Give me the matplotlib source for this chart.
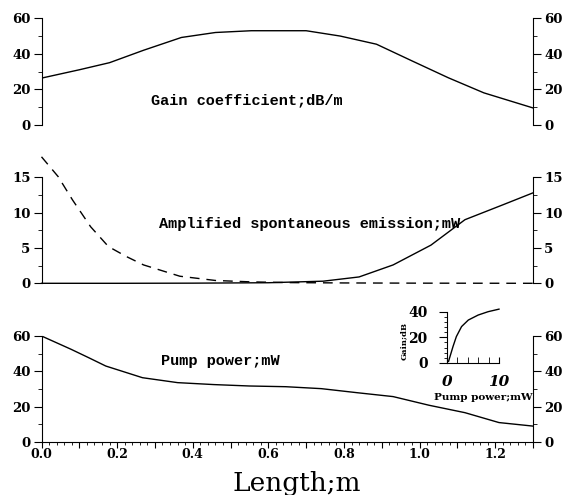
import numpy as np
import matplotlib.pyplot as plt
from matplotlib.ticker import MultipleLocator

# data
gain_x = [0.0, 0.1, 0.18, 0.27, 0.37, 0.46, 0.555, 0.70, 0.79, 0.886, 0.98, 1.076, 1.17, 1.3]
gain_y = [26.3, 31.0, 35.0, 42.0, 49.2, 52.0, 53.0, 53.0, 50.0, 45.4, 36.0, 26.5, 18.0, 9.5]

ase_bwd_x = [0.0, 0.044, 0.082, 0.13, 0.177, 0.224, 0.27, 0.366, 0.46, 0.555, 0.65, 0.8, 1.0, 1.3]
ase_bwd_y = [17.9, 15.1, 11.8, 8.0, 5.2, 3.8, 2.6, 1.0, 0.4, 0.2, 0.1, 0.05, 0.02, 0.0]

ase_fwd_x = [0.0, 0.2, 0.4, 0.6, 0.745, 0.84, 0.93, 1.03, 1.12, 1.22, 1.3]
ase_fwd_y = [0.0, 0.0, 0.02, 0.08, 0.3, 0.9, 2.6, 5.4, 9.0, 11.1, 12.8]

pump_x = [0.0, 0.078, 0.125, 0.17, 0.22, 0.267, 0.36, 0.456, 0.55, 0.646, 0.74, 0.835, 0.93, 1.025, 1.12, 1.21, 1.3]
pump_y = [60.0, 52.5, 47.7, 43.0, 39.6, 36.4, 33.6, 32.5, 31.7, 31.3, 30.2, 27.9, 25.7, 20.8, 16.6, 11.0, 9.0]

inset_x = [0.3, 1.16, 1.8, 2.8, 4.1, 6.0, 7.9, 10.0]
inset_y = [1.3, 12.9, 20.6, 28.4, 33.5, 37.4, 40.0, 42.0]

x_ticks = [0.0, 0.2, 0.4, 0.6, 0.8, 1.0, 1.2]
x_ticklabels = ['0.0', '0.2', '0.4', '0.6', '0.8', '1.0', '1.2']

plt.rcParams['font.family'] = 'DejaVu Serif'
label_font = dict(family='Liberation Mono', fontweight='bold', fontsize=11)

fig = plt.figure(figsize=(5.63, 4.95), dpi=100)
W, H = 563.0, 495.0
left, right = 41.5 / W, 533 / W

def panel(top_px, bot_px):
    return fig.add_axes([left, 1 - bot_px / H, right - left, (bot_px - top_px) / H])

ax1 = panel(18.3, 124.8)
ax2 = panel(177.3, 283.3)
ax3 = panel(336, 442)

for ax, ymax, major, minor in [(ax1, 60, 20, 10), (ax2, 15, 5, 2.5), (ax3, 60, 20, 10)]:
    ax.set_xlim(0, 1.3)
    ax.set_ylim(0, ymax)
    ax.yaxis.set_major_locator(MultipleLocator(major))
    ax.yaxis.set_minor_locator(MultipleLocator(minor))
    ax.spines['top'].set_visible(False)
    ax.tick_params(axis='y', which='both', direction='out', left=True, right=True,
                   labelleft=True, labelright=True, labelsize=9.5, pad=2.5)
    ax.tick_params(axis='y', which='major', length=5.5)
    ax.tick_params(axis='y', which='minor', length=3)
    for lab in ax.get_yticklabels():
        lab.set_fontweight('bold')
    ax.patch.set_visible(False)

for ax in (ax1, ax2):
    ax.spines['bottom'].set_visible(False)
    ax.tick_params(axis='x', which='both', bottom=False, labelbottom=False)

ax3.set_xticks(np.arange(0, 1.31, 0.1))
ax3.set_xticklabels([x_ticklabels[i // 2] if i % 2 == 0 else '' for i in range(14)],
                    fontweight='bold')
ax3.xaxis.set_minor_locator(MultipleLocator(0.02))
ax3.tick_params(axis='x', which='both', direction='out', labelsize=9, pad=0.5)
ax3.tick_params(axis='x', which='major', length=4)
ax3.tick_params(axis='x', which='minor', length=2.5)

ax1.plot(gain_x, gain_y, color='black', lw=1)
ax1.text(0.543, 13.8, 'Gain coefficient;dB/m', ha='center', va='center', **label_font)

ax2.plot(ase_bwd_x, ase_bwd_y, color='black', lw=1, dashes=(7, 5), clip_on=False)
ax2.plot(ase_fwd_x, ase_fwd_y, color='black', lw=1, clip_on=False)
ax2.text(0.709, 8.4, 'Amplified spontaneous emission;mW', ha='center', va='center', **label_font)

ax3.plot(pump_x, pump_y, color='black', lw=1)
ax3.text(0.474, 45.8, 'Pump power;mW', ha='center', va='center', **label_font)
fig.text(297 / W, 1 - 491 / H, 'Length;m', ha='center', va='baseline', fontsize=19)

# inset
axi = fig.add_axes([447 / W, 1 - 363 / H, 52 / W, 51.3 / H])
axi.plot(inset_x, inset_y, color='black', lw=1, clip_on=False)
axi.set_xlim(0, 10)
axi.set_ylim(0, 40)
axi.spines['top'].set_visible(False)
axi.spines['right'].set_visible(False)
axi.patch.set_visible(False)
axi.xaxis.set_major_locator(MultipleLocator(10))
axi.xaxis.set_minor_locator(MultipleLocator(2))
axi.yaxis.set_major_locator(MultipleLocator(20))
axi.yaxis.set_minor_locator(MultipleLocator(4))
axi.tick_params(axis='x', which='both', direction='in', labelsize=11, pad=9)
axi.tick_params(axis='x', which='major', length=4.5)
axi.tick_params(axis='x', which='minor', length=4)
axi.tick_params(axis='y', which='both', direction='out', labelsize=10, pad=8)
axi.tick_params(axis='y', which='major', length=6)
axi.tick_params(axis='y', which='minor', length=2.5)
for lab in axi.get_xticklabels():
    lab.set_fontweight('bold')
    lab.set_fontstyle('italic')
for lab in axi.get_yticklabels():
    lab.set_fontweight('bold')
fig.text(403.5 / W, 1 - 341 / H, 'Gain;dB', rotation=90, ha='center', va='center',
         fontsize=6, fontweight='bold')
fig.text(483 / W, 1 - 397 / H, 'Pump power;mW', ha='center', va='center',
         fontsize=7.5, fontweight='bold')

fig.savefig('out.png', dpi=100)
